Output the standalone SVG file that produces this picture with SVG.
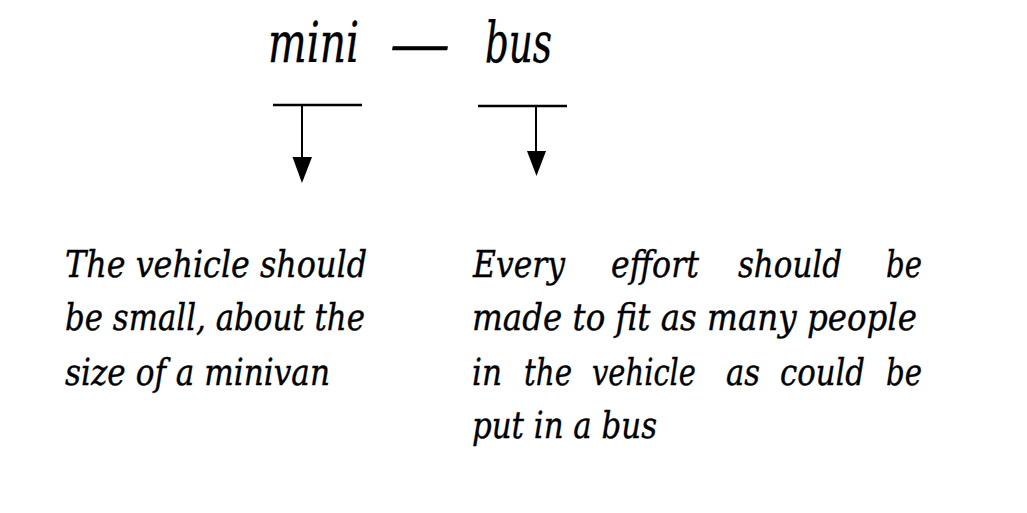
<svg xmlns="http://www.w3.org/2000/svg" width="1027" height="513" viewBox="0 0 1027 513">
<style>
.t{font-family:"DejaVu Serif","Liberation Serif",serif;font-style:italic;fill:#000;stroke:#000;stroke-width:0.4}
.h{font-size:56px}
.b{font-size:38px}
.ln{stroke:#000;stroke-width:2.5;fill:none}
.v{stroke:#000;stroke-width:2;fill:none}
</style>
<rect width="1027" height="513" fill="#fff"/>
<g id="title">
<text class="t h" x="268" y="62" textLength="91" lengthAdjust="spacingAndGlyphs">mini</text>
<text class="t h" x="390" y="63" textLength="60" lengthAdjust="spacingAndGlyphs">—</text>
<text class="t h" x="485" y="62" textLength="67" lengthAdjust="spacingAndGlyphs">bus</text>
</g>
<g id="connectors">
<line class="ln" x1="273" y1="105" x2="362" y2="105"/>
<line class="v" x1="302" y1="105" x2="302" y2="158"/>
<path d="M292.5,157 L312,157 L302,183 Z" fill="#000"/>
<line class="ln" x1="478" y1="106" x2="567" y2="106"/>
<line class="v" x1="536" y1="106" x2="536" y2="152"/>
<path d="M527,151 L546,151 L536.5,176 Z" fill="#000"/>
</g>
<g id="mini-desc">
<text class="t b" x="65" y="277" textLength="302" lengthAdjust="spacingAndGlyphs">The vehicle should</text>
<text class="t b" x="65" y="330" textLength="300" lengthAdjust="spacingAndGlyphs">be small, about the</text>
<text class="t b" x="65" y="385" textLength="265" lengthAdjust="spacingAndGlyphs">size of a minivan</text>
</g>
<g id="bus-desc">
<text class="t b" x="473" y="277" textLength="92" lengthAdjust="spacingAndGlyphs">Every</text>
<text class="t b" x="611" y="277" textLength="88" lengthAdjust="spacingAndGlyphs">effort</text>
<text class="t b" x="738" y="277" textLength="104" lengthAdjust="spacingAndGlyphs">should</text>
<text class="t b" x="886" y="277" textLength="36" lengthAdjust="spacingAndGlyphs">be</text>
<text class="t b" x="472" y="330" textLength="445" lengthAdjust="spacingAndGlyphs">made to fit as many people</text>
<text class="t b" x="472" y="385" textLength="30" lengthAdjust="spacingAndGlyphs">in</text>
<text class="t b" x="524" y="385" textLength="48" lengthAdjust="spacingAndGlyphs">the</text>
<text class="t b" x="592" y="385" textLength="104" lengthAdjust="spacingAndGlyphs">vehicle</text>
<text class="t b" x="726" y="385" textLength="34" lengthAdjust="spacingAndGlyphs">as</text>
<text class="t b" x="780" y="385" textLength="85" lengthAdjust="spacingAndGlyphs">could</text>
<text class="t b" x="886" y="385" textLength="36" lengthAdjust="spacingAndGlyphs">be</text>
<text class="t b" x="472" y="438" textLength="185" lengthAdjust="spacingAndGlyphs">put in a bus</text>
</g>
</svg>
